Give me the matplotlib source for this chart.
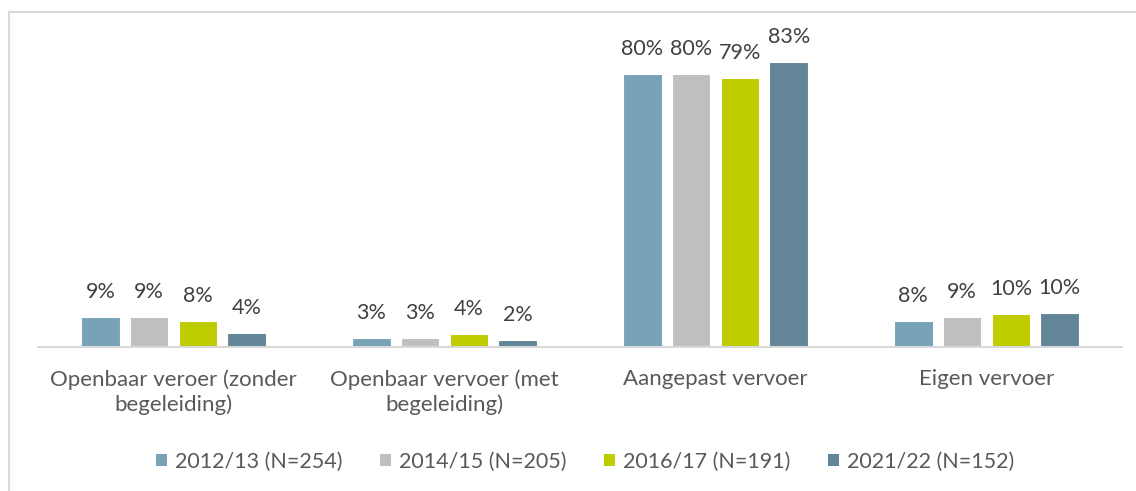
import matplotlib
matplotlib.use("Agg")
import matplotlib.pyplot as plt
from matplotlib.lines import Line2D
from matplotlib.patches import Patch
import numpy as np

plt.rcParams['font.family'] = ['Lato', 'DejaVu Sans']

categories = ["Openbaar veroer (zonder\nbegeleiding)",
              "Openbaar vervoer (met\nbegeleiding)",
              "Aangepast vervoer",
              "Eigen vervoer"]
series_names = ["2012/13 (N=254)", "2014/15 (N=205)", "2016/17 (N=191)", "2021/22 (N=152)"]
v2012 = [8.8, 2.6, 79.8, 7.6]
v2014 = [8.8, 2.6, 79.8, 8.8]
v2016 = [7.6, 3.8, 78.7, 9.6]
v2021 = [4.1, 2.0, 83.2, 9.9]
labels2012 = ["9%", "3%", "80%", "8%"]
labels2014 = ["9%", "3%", "80%", "9%"]
labels2016 = ["8%", "4%", "79%", "10%"]
labels2021 = ["4%", "2%", "83%", "10%"]

colors = ["#78A2B6", "#BFBFBF", "#BFCC00", "#628597"]
values = [v2012, v2014, v2016, v2021]
labels = [labels2012, labels2014, labels2016, labels2021]

W, H = 1136, 491
fig = plt.figure(figsize=(W / 100, H / 100), dpi=100)
ax = fig.add_axes([38 / W, 1 - 347 / H, (1122 - 38) / W, (347 - 39) / H])

x = np.arange(len(categories))
step = 0.18
bw = 0.143
for i, (vals, labs, c, name) in enumerate(zip(values, labels, colors, series_names)):
    pos = x + (i - 1.5) * step
    bars = ax.bar(pos, vals, width=bw, color=c, edgecolor="white", linewidth=0.8, label=name, zorder=2)
    for b, l in zip(bars, labs):
        ax.text(b.get_x() + b.get_width() / 2, b.get_height() + 4.4, l,
                ha="center", va="bottom", fontsize=15.5, color="#404040")

ax.set_xlim(-0.5, 3.5)
ax.set_ylim(0, 90)
for s in ["top", "right", "left"]:
    ax.spines[s].set_visible(False)
ax.spines["bottom"].set_color("#D9D9D9")
ax.spines["bottom"].set_linewidth(1.5)
ax.set_yticks([])
ax.set_xticks(x)
ax.set_xticklabels(categories, fontsize=16, color="#595959", linespacing=1.28)
ax.tick_params(axis="x", length=0, pad=16)

handles = [Patch(facecolor=c, edgecolor="none") for c in colors]
fig.legend(handles, series_names, loc="center", bbox_to_anchor=(585 / W, 1 - 462 / H),
           ncol=4, frameon=False, fontsize=15.5, handlelength=0.5, handleheight=0.5,
           handletextpad=0.37, columnspacing=1.75, labelcolor="#595959")

# outer chart frame (partially visible)
fig.add_artist(Line2D([8.5 / W, 8.5 / W], [0, 1 - 12 / H], transform=fig.transFigure,
                      color="#D9D9D9", linewidth=1.5))
fig.add_artist(Line2D([8.5 / W, 1], [1 - 12 / H, 1 - 12 / H], transform=fig.transFigure,
                      color="#D9D9D9", linewidth=1.5))

fig.savefig("out.png", dpi=100)
